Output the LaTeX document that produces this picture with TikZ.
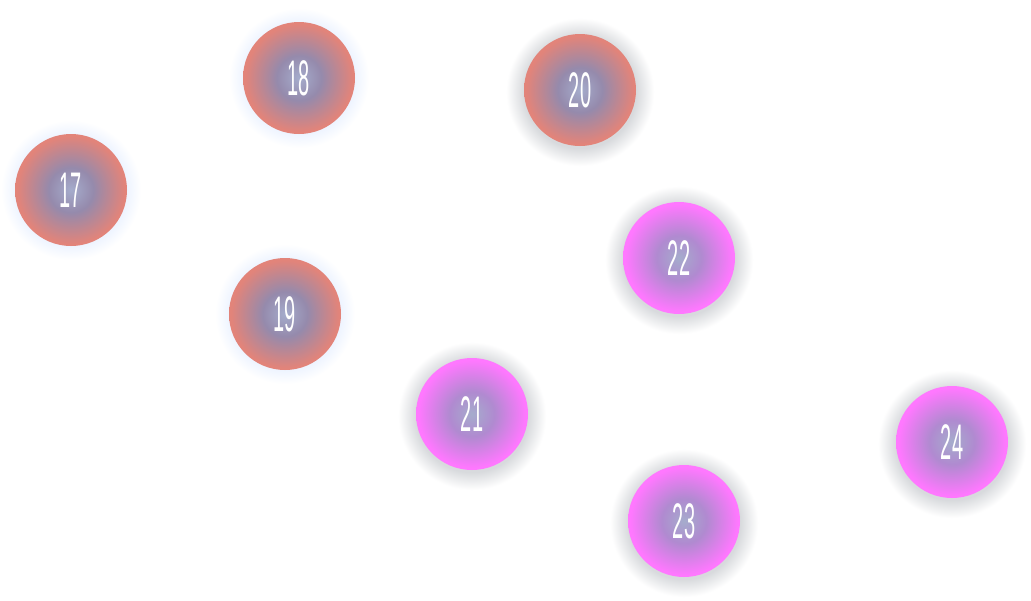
\documentclass[tikz,border=0pt]{standalone}
\usepackage{fontspec}
\newfontfamily\numfont[FakeStretch=0.40]{Liberation Sans}
\definecolor{ctr}{HTML}{A5ACCC}
\definecolor{midc}{HTML}{958AAC}
\definecolor{salmon}{HTML}{E2847A}
\definecolor{magenta}{HTML}{FF78FF}
\definecolor{midm}{HTML}{B08AD0}
\definecolor{shadowgrey}{HTML}{D8DADD}
\definecolor{glowblue}{HTML}{EEF4FF}
\pgfdeclareradialshading{ballsalmon}{\pgfpoint{0bp}{0bp}}{color(0bp)=(ctr); color(10bp)=(midc); color(24bp)=(salmon); color(50bp)=(salmon)}
\pgfdeclareradialshading{ballmagenta}{\pgfpoint{0bp}{0bp}}{color(0bp)=(ctr); color(10bp)=(midm); color(24bp)=(magenta); color(50bp)=(magenta)}
\pgfdeclareradialshading{glowgrey}{\pgfpoint{0bp}{0bp}}{color(0bp)=(shadowgrey); color(19bp)=(shadowgrey); color(25bp)=(white); color(50bp)=(white)}
\pgfdeclareradialshading{glowlight}{\pgfpoint{0bp}{0bp}}{color(0bp)=(glowblue); color(20bp)=(glowblue); color(25bp)=(white); color(50bp)=(white)}
\tikzset{
  numlabel/.style={text=white, font=\numfont\fontsize{50}{50}\selectfont, inner sep=0pt}
}
\usetikzlibrary{calc}
\newcommand{\ballA}[3]{%
  \shade[shading=glowlight] (#1) circle (70);
  \shade[shading=ballsalmon] (#1) circle (56);
  \node[numlabel] (n#3) at (#1) {#2};}
\newcommand{\ballB}[3]{%
  \shade[shading=glowgrey] ($(#1)+(0,2)$) circle (74);
  \shade[shading=ballsalmon] (#1) circle (56);
  \node[numlabel] (n#3) at (#1) {#2};}
\newcommand{\ballC}[3]{%
  \shade[shading=glowgrey] ($(#1)+(0,2)$) circle (74);
  \shade[shading=ballmagenta] (#1) circle (56);
  \node[numlabel] (n#3) at (#1) {#2};}
\begin{document}
\begin{tikzpicture}[x=1pt,y=-1pt]
\useasboundingbox[fill=white] (0,0) rectangle (1031,600);
\coordinate (p17) at (71,190);
\coordinate (p18) at (299,78);
\coordinate (p19) at (285,314);
\coordinate (p20) at (580,90);
\coordinate (p21) at (472,414);
\coordinate (p22) at (679,258);
\coordinate (p23) at (684,521);
\coordinate (p24) at (952,442);
\ballA{p17}{17}{17}
\ballA{p18}{18}{18}
\ballA{p19}{19}{19}
\ballB{p20}{20}{20}
\ballC{p21}{21}{21}
\ballC{p22}{22}{22}
\ballC{p23}{23}{23}
\ballC{p24}{24}{24}
\end{tikzpicture}
\end{document}
